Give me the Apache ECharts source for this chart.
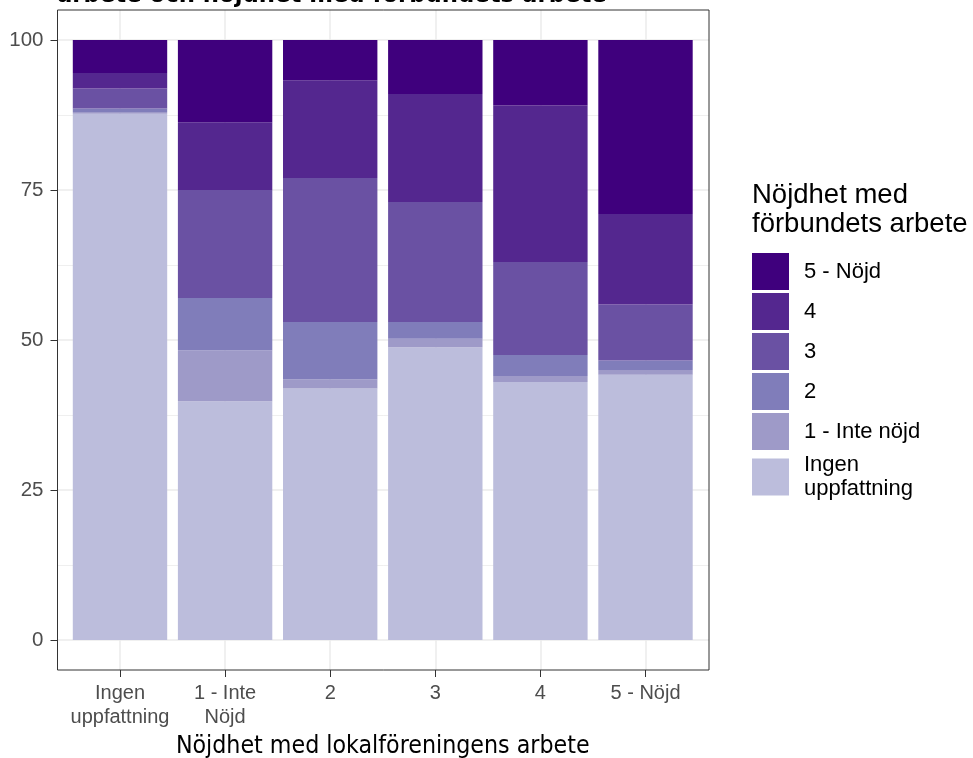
<!DOCTYPE html>
<html>
<head>
<meta charset="utf-8">
<script src="https://cdn.jsdelivr.net/npm/echarts@6/dist/echarts.min.js"></script>
<style>html,body{margin:0;padding:0;background:#fff}#c{width:973px;height:758px}</style>
</head>
<body>
<div id="c"></div>
<script>
const categories = ['Ingen\nuppfattning', '1 - Inte\nNöjd', '2', '3', '4', '5 - Nöjd'];
const seriesNames = ['Ingen\nuppfattning', '1 - Inte nöjd', '2', '3', '4', '5 - Nöjd'];
const ingen = [87.7, 39.8, 41.9, 48.8, 43.0, 44.2];
const inteNojd = [0.3, 8.5, 1.5, 1.4, 1.0, 0.8];
const two = [0.6, 8.7, 9.6, 2.8, 3.5, 1.6];
const three = [3.3, 18.0, 24.0, 20.0, 15.5, 9.3];
const four = [2.6, 11.3, 16.3, 18.0, 26.1, 15.1];
const five = [5.5, 13.7, 6.7, 9.0, 10.9, 29.0];
const colors = ['#bcbddc', '#9e9ac8', '#807dba', '#6a51a3', '#54278f', '#3f007d'];
const yMin = 0, yMax = 100, yStep = 25;
const titleText = 'arbete och nöjdhet med förbundets arbete';
const legendTitle = 'Nöjdhet med\nförbundets arbete';
const xTitle = 'Nöjdhet med lokalföreningens arbete';

const values = [ingen, inteNojd, two, three, four, five];
const sans = "'Liberation Sans', Arial, sans-serif";
const cond = "'DejaVu Sans Condensed', Roboto, sans-serif";

const chart = echarts.init(document.getElementById('c'), null, {renderer: 'canvas'});
const option = {
  backgroundColor: '#fff',
  animation: false,
  title: [
    {text: titleText, left: 57, top: -17, padding: 0,
     textStyle: {fontFamily: cond, fontWeight: 'bold', fontSize: 25.3, color: '#000'}},
    {text: legendTitle, left: 752, top: 181, padding: 0,
     textStyle: {fontFamily: sans, fontWeight: 'normal', fontSize: 27.5, lineHeight: 29, color: '#000'}}
  ],
  legend: {
    orient: 'vertical', left: 752, top: 253, padding: 0,
    itemWidth: 37, itemHeight: 37, itemGap: 3, icon: 'rect', selectedMode: false,
    data: seriesNames.slice().reverse(),
    textStyle: {fontFamily: sans, fontSize: 22, lineHeight: 24, color: '#000', padding: [0, 0, 0, 10]}
  },
  grid: [
    {left: 57.5, right: 264, top: 10, bottom: 88, outerBoundsMode: 'none', containLabel: false, show: true, borderColor: '#333', borderWidth: 1, backgroundColor: 'transparent', z: 5},
    {left: 57.5, right: 264, top: 40, bottom: 118, outerBoundsMode: 'none', containLabel: false},
    {left: 120, right: 327.5, top: 10, bottom: 88, outerBoundsMode: 'none', containLabel: false},
    {left: 120, right: 327.5, top: 40, bottom: 118, outerBoundsMode: 'none', containLabel: false}
  ],
  xAxis: [
    {gridIndex: 0, type: 'value', min: 0, max: 1, show: false},
    {gridIndex: 1, type: 'value', min: 0, max: 1, show: false},
    {gridIndex: 2, type: 'category', data: categories, boundaryGap: false,
     axisLine: {show: false},
     axisTick: {show: true, length: 7, lineStyle: {color: '#333', width: 1}},
     axisLabel: {fontFamily: sans, fontSize: 20, lineHeight: 24, color: '#4d4d4d', margin: 11, interval: 0},
     splitLine: {show: true, lineStyle: {color: '#ebebeb', width: 1.5}},
     name: xTitle, nameLocation: 'middle', nameGap: 64, nameMoveOverlap: false,
     nameTextStyle: {fontFamily: cond, fontSize: 24.7, color: '#000'}},
    {gridIndex: 3, type: 'category', data: categories, boundaryGap: false, show: false}
  ],
  yAxis: [
    {gridIndex: 0, type: 'value', min: 0, max: 1, show: false},
    {gridIndex: 1, type: 'value', min: yMin, max: yMax, interval: yStep,
     axisLine: {show: false},
     axisTick: {show: true, length: 7, lineStyle: {color: '#333', width: 1}},
     axisLabel: {fontFamily: sans, fontSize: 20.5, color: '#4d4d4d', margin: 14},
     splitLine: {show: true, lineStyle: {color: '#ebebeb', width: 1.5}},
     minorTick: {show: false, splitNumber: 2},
     minorSplitLine: {show: true, lineStyle: {color: '#ebebeb', width: 0.8}}},
    {gridIndex: 2, type: 'value', min: 0, max: 1, show: false},
    {gridIndex: 3, type: 'value', min: yMin, max: yMax, show: false}
  ],
  series: seriesNames.map((n, i) => ({
    name: n, type: 'bar', stack: 'total', xAxisIndex: 3, yAxisIndex: 3,
    barWidth: 94.4, clip: false, data: values[i],
    itemStyle: {color: colors[i]}, emphasis: {disabled: true}
  }))
};
chart.setOption(option);
</script>
</body>
</html>
